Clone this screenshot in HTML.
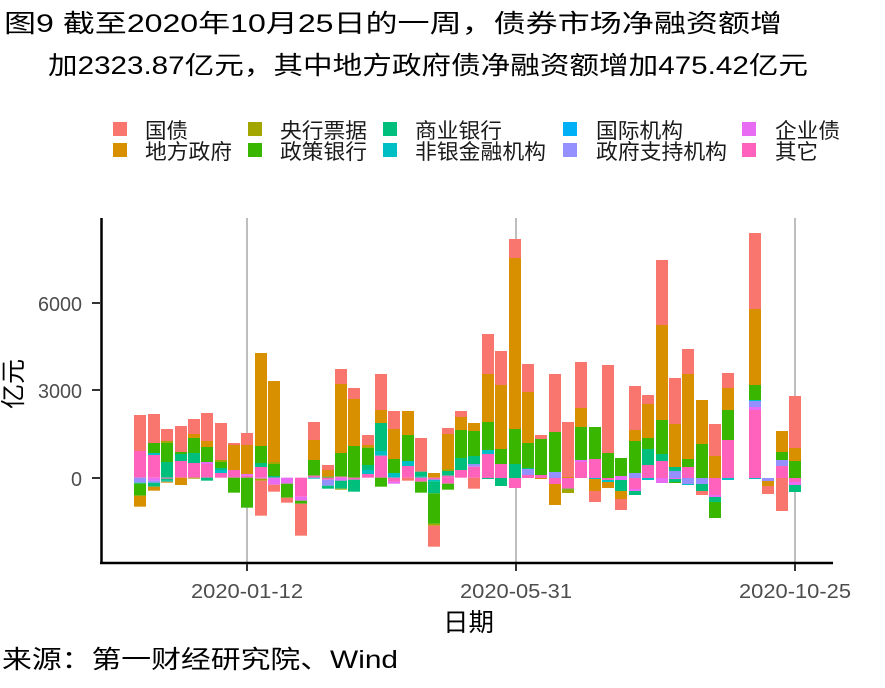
<!DOCTYPE html>
<html><head><meta charset="utf-8">
<style>
html,body{margin:0;padding:0;background:#fff;}
svg{display:block;font-family:"Liberation Sans","Noto Sans CJK SC",sans-serif;}
</style></head><body>
<svg id="s" width="885" height="688" viewBox="0 0 885 688" xmlns="http://www.w3.org/2000/svg">
<rect width="885" height="688" fill="#fff"/>
<text x="4" y="32" font-size="25" fill="#000" textLength="778" lengthAdjust="spacingAndGlyphs">图9  截至2020年10月25日的一周，债券市场净融资额增</text>
<text x="48" y="74" font-size="25" fill="#000" textLength="760" lengthAdjust="spacingAndGlyphs">加2323.87亿元，其中地方政府债净融资额增加475.42亿元</text>
<g font-size="21" fill="#1a1a1a">
<rect x="113" y="122" width="14" height="14" fill="#F8766D"/><text x="145" y="138" textLength="43" lengthAdjust="spacingAndGlyphs">国债</text>
<rect x="113" y="143" width="14" height="14" fill="#D89000"/><text x="145" y="159" textLength="87" lengthAdjust="spacingAndGlyphs">地方政府</text>
<rect x="248" y="122" width="14" height="14" fill="#A3A500"/><text x="280" y="138" textLength="87" lengthAdjust="spacingAndGlyphs">央行票据</text>
<rect x="248" y="143" width="14" height="14" fill="#39B600"/><text x="280" y="159" textLength="87" lengthAdjust="spacingAndGlyphs">政策银行</text>
<rect x="383" y="122" width="14" height="14" fill="#00BF7D"/><text x="415" y="138" textLength="87" lengthAdjust="spacingAndGlyphs">商业银行</text>
<rect x="383" y="143" width="14" height="14" fill="#00BFC4"/><text x="415" y="159" textLength="131" lengthAdjust="spacingAndGlyphs">非银金融机构</text>
<rect x="563" y="122" width="14" height="14" fill="#00B0F6"/><text x="596" y="138" textLength="87" lengthAdjust="spacingAndGlyphs">国际机构</text>
<rect x="563" y="143" width="14" height="14" fill="#9590FF"/><text x="596" y="159" textLength="131" lengthAdjust="spacingAndGlyphs">政府支持机构</text>
<rect x="742" y="122" width="14" height="14" fill="#E76BF3"/><text x="775" y="138" textLength="65" lengthAdjust="spacingAndGlyphs">企业债</text>
<rect x="742" y="143" width="14" height="14" fill="#FF62BC"/><text x="775" y="159" textLength="43" lengthAdjust="spacingAndGlyphs">其它</text>
</g>
<g stroke="#BEBEBE" stroke-width="2">
<line x1="247" y1="218" x2="247" y2="562"/>
<line x1="516" y1="218" x2="516" y2="562"/>
<line x1="795" y1="218" x2="795" y2="562"/>
</g>
<g id="bars"></g>
<g stroke="#000" stroke-width="2.5">
<line x1="101.5" y1="218" x2="101.5" y2="563"/>
<line x1="100" y1="563" x2="833" y2="563"/>
</g>
<g stroke="#333" stroke-width="2">
<line x1="92" y1="303" x2="100" y2="303"/>
<line x1="92" y1="390" x2="100" y2="390"/>
<line x1="92" y1="478" x2="100" y2="478"/>
<line x1="247" y1="564" x2="247" y2="571"/>
<line x1="516" y1="564" x2="516" y2="571"/>
<line x1="795" y1="564" x2="795" y2="571"/>
</g>
<g font-size="20" fill="#4D4D4D">
<text x="38" y="311" textLength="44" lengthAdjust="spacingAndGlyphs">6000</text>
<text x="38" y="398" textLength="44" lengthAdjust="spacingAndGlyphs">3000</text>
<text x="71" y="486" textLength="11" lengthAdjust="spacingAndGlyphs">0</text>
<text x="191" y="598" textLength="112" lengthAdjust="spacingAndGlyphs">2020-01-12</text>
<text x="460" y="598" textLength="112" lengthAdjust="spacingAndGlyphs">2020-05-31</text>
<text x="739" y="598" textLength="112" lengthAdjust="spacingAndGlyphs">2020-10-25</text>
</g>
<text x="443" y="631" font-size="25" fill="#000" textLength="51" lengthAdjust="spacingAndGlyphs">日期</text>
<text transform="translate(22,384) rotate(-90)" font-size="25" text-anchor="middle" fill="#000">亿元</text>
<text x="2" y="668" font-size="25" fill="#000" textLength="396" lengthAdjust="spacingAndGlyphs">来源：第一财经研究院、Wind</text>
</svg>
<script>
var C={s:"#F8766D",o:"#D89000",l:"#A3A500",g:"#39B600",t:"#00BF7D",c:"#00BFC4",b:"#00B0F6",v:"#9590FF",m:"#E76BF3",p:"#FF62BC"};
var Z1=340,Z3=230;
var B=[
[134,Z1,"s225-333 p333-413 v413-428 t428-431 g431-467 o467-500"],
[148,Z1,"s222-309 g309-339 c339-345 p345-413 m413-422 v422-428 t428-440 o440-452"],
[161,Z1,"s267-303 l303-309 g309-366 t366-413 p413-416 t416-422 c422-425 o425-428"],
[175,Z1,"s258-336 g336-342 t342-363 p363-413 o413-435"],
[188,Z1,"s237-282 o282-294 g294-339 t339-369 p369-413 l413-416"],
[201,Z1,"s219-303 o303-321 g321-366 m366-372 p372-413 t413-422"],
[215,Z1,"s249-360 l360-366 g366-384 t384-390 c390-399 p399-413"],
[228,Z1,"s309-315 o315-390 p390-413 g413-458"],
[241,Z1,"s279-315 o315-402 m402-407 p407-413 g413-503"],
[255,Z1,"o39-318 g318-369 t369-381 p381-413 m413-416 l416-422 s422-527"],
[268,Z1,"o123-366 l366-372 g372-408 t408-413 m413-434 s434-455"],
[281,Z1,"m413-431 g431-473 s473-488"],
[295,Z1,"p413-470 m470-482 g482-491 s491-587"],
[308,Z1,"s246-300 o300-360 g360-407 p407-413 c413-416"],
[322,Z1,"s375-390 o390-410 g410-413 p413-419 v419-437 t437-446"],
[335,Z1,"s87-132 o132-339 g339-410 p410-413 m413-422 t422-446 l446-449"],
[348,Z1,"s144-177 o177-318 g318-413 p413-419 t419-455"],
[362,Z1,"s285-315 o315-323 g323-375 t375-390 c390-402 p402-413"],
[375,Z1,"s102-210 o210-249 t249-333 c333-347 p347-413 g413-440"],
[388,Z1,"s213-267 o267-357 g357-399 c399-413 p413-425 m425-431"],
[402,Z1,"o213-285 g285-363 c363-378 p378-413 s413-422"],
[415,Z1,"s294-395 t395-410 c410-413 p413-425 g425-458"],
[428,Z1,"o399-413 p413-419 c419-424 t424-460 g460-551 l551-557 s557-620"],
[442,Z1,"s264-282 o282-387 l387-393 t393-407 p407-413 p413-431 g431-449"],
[455,Z1,"s213-231 o231-270 g270-354 t354-390 p390-413"],
[468,Z1,"o249-273 g273-348 t348-372 v372-380 p380-413 s413-446"],
[482,Z3,"s312-432 o432-576 g576-660 c660-672 p672-744 t744-747"],
[495,Z3,"s363-465 o465-657 g657-702 p702-744 t744-768"],
[509,Z3,"s27-84 o84-597 g597-702 t702-744 p744-774"],
[522,Z3,"s402-486 o486-639 g639-714 t714-717 v717-735 p735-744"],
[535,Z3,"s615-627 g627-735 p735-744 o744-747"],
[549,Z3,"s432-606 g606-726 v726-744 p744-762 o762-825"],
[562,Z3,"s576-741 o741-744 p744-776 g776-779 l779-789"],
[575,Z3,"s396-534 o534-591 g591-690 m690-696 p696-744"],
[589,Z3,"g591-687 p687-744 c744-747 o747-783 s783-816"],
[602,Z3,"s405-669 g669-744 p744-750 c750-756 o756-774"],
[615,Z3,"g684-738 m738-744 m744-750 t750-783 o783-807 s807-840"],
[629,Z3,"s468-600 o600-633 g633-729 v729-744 p744-777 m777-783 t783-795"],
[642,Z3,"s495-522 o522-624 g624-657 t657-705 p705-744 c744-750"],
[656,Z3,"s90-285 o285-570 g570-672 t672-693 p693-744 m744-759"],
[669,Z3,"s444-582 o582-711 t711-723 v723-744 m744-747 t747-756 g756-759"],
[682,Z3,"s357-432 o432-687 g687-711 p711-744 v744-762 c762-765"],
[696,Z3,"o510-642 g642-744 v744-762 t762-783 s783-795"],
[709,Z3,"s582-678 o678-744 p744-795 m795-801 t801-816 g816-864"],
[722,Z3,"s429-474 o474-540 g540-630 p630-744 c744-750"],
[749,Z3,"s9-237 o237-465 g465-510 c510-513 v513-531 m531-540 p540-744 c744-747"],
[762,Z3,"v744-753 o753-768 s768-792"],
[776,Z3,"o603-666 g666-690 v690-708 p708-744 s744-843"],
[789,Z3,"s498-654 o654-693 g693-744 p744-756 m756-765 t765-786"]
];
var g=document.getElementById("bars"),ns="http://www.w3.org/2000/svg";
B.forEach(function(b){
 b[2].split(" ").forEach(function(seg){
  var k=seg[0],r=seg.slice(1).split("-"),y1=b[1]+(+r[0])/3,y2=b[1]+(+r[1])/3;
  var e=document.createElementNS(ns,"rect");
  e.setAttribute("x",b[0]);e.setAttribute("width",12);
  e.setAttribute("y",y1.toFixed(2));e.setAttribute("height",Math.max(0.5,y2-y1).toFixed(2));
  e.setAttribute("fill",C[k]);g.appendChild(e);
 });
});
</script>
</body></html>
